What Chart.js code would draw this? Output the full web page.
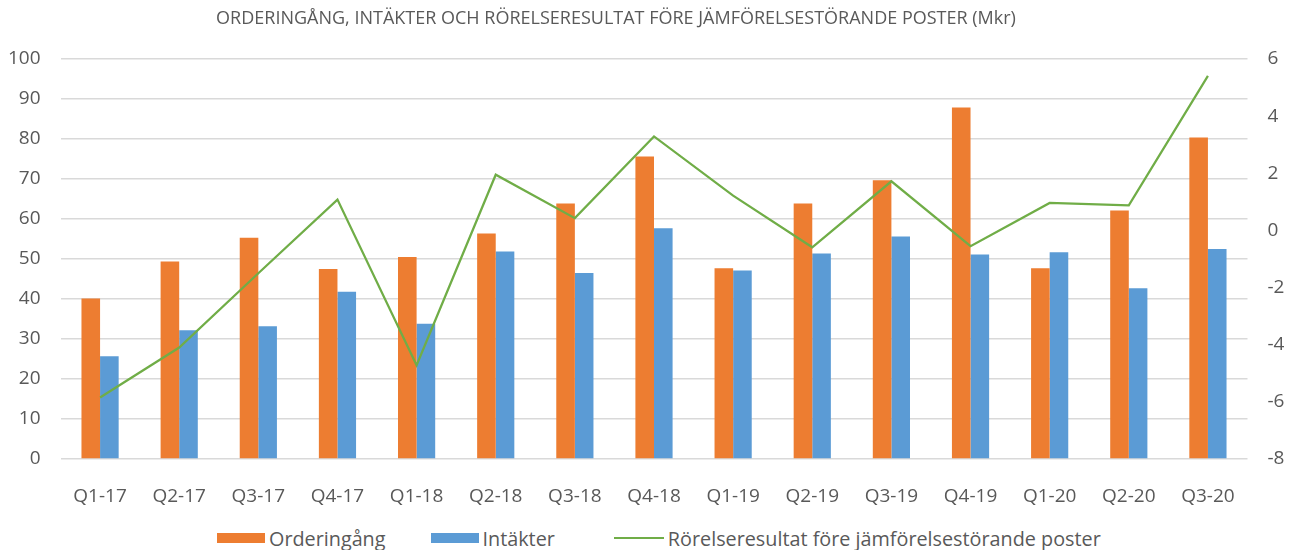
<!DOCTYPE html>
<html>
<head>
<meta charset="utf-8">
<script src="https://cdn.jsdelivr.net/npm/chart.js@4"></script>
<style>
  body { margin: 0; background: #fff; }
  #wrap { width: 1295px; height: 550px; position: relative; font-family: 'Open Sans', sans-serif; }
  #grafBox { position: absolute; left: 0; top: 0; width: 1295px; height: 505px; }
  #legend { position: absolute; left: 217px; top: 525px; height: 26px; display: flex; align-items: center;
            font-size: 19.8px; color: #595959; white-space: nowrap; }
  #legend .post { display: flex; align-items: center; }
  #legend .ruta { width: 48px; height: 10.5px; margin-right: 4px; }
  #legend .linje { width: 50px; height: 2.25px; margin-right: 4px; }
</style>
</head>
<body>
<div id="wrap">
  <div id="grafBox"><canvas id="grafOrder"></canvas></div>
  <div id="legend"></div>
</div>
<script>
const kvartal = ["Q1-17", "Q2-17", "Q3-17", "Q4-17", "Q1-18", "Q2-18", "Q3-18", "Q4-18",
                 "Q1-19", "Q2-19", "Q3-19", "Q4-19", "Q1-20", "Q2-20", "Q3-20"];
const orderingang = [40.1, 49.4, 55.3, 47.5, 50.5, 56.4, 63.9, 75.6, 47.7, 63.9, 69.7, 87.9, 47.7, 62.1, 80.4];
const intakter = [25.7, 32.2, 33.2, 41.8, 33.8, 51.9, 46.5, 57.7, 47.1, 51.4, 55.6, 51.1, 51.7, 42.7, 52.5];
const rorelseresultat = [-5.85, -4.1, -1.5, 1.08, -4.72, 1.95, 0.43, 3.29, 1.22, -0.59, 1.72, -0.55, 0.96, 0.88, 5.41];

const titel = "ORDERINGÅNG, INTÄKTER OCH RÖRELSERESULTAT FÖRE JÄMFÖRELSESTÖRANDE POSTER (Mkr)";
const fontFamilj = "'Open Sans', sans-serif";
const gra = "#595959";

// titeln sitter lite till vänster om mitten i originalet
const titelPlugin = {
    id: "titel",
    afterDraw(chart) {
        const ctx = chart.ctx;
        ctx.save();
        ctx.font = "18px " + fontFamilj;
        ctx.fillStyle = gra;
        ctx.textAlign = "center";
        ctx.textBaseline = "middle";
        ctx.fillText(titel, 616, 19);
        ctx.restore();
    }
};

const graf = new Chart(document.getElementById("grafOrder"), {
    data: {
        labels: kvartal,
        datasets: [
            {
                type: "bar",
                label: "Orderingång",
                data: orderingang,
                yAxisID: "y",
                backgroundColor: "#ED7D31",
                borderWidth: 0,
                categoryPercentage: 0.47,
                barPercentage: 1,
                order: 1
            },
            {
                type: "bar",
                label: "Intäkter",
                data: intakter,
                yAxisID: "y",
                backgroundColor: "#5B9BD5",
                borderWidth: 0,
                categoryPercentage: 0.47,
                barPercentage: 1,
                order: 1
            },
            {
                type: "line",
                label: "Rörelseresultat före jämförelsestörande poster",
                data: rorelseresultat,
                yAxisID: "y1",
                borderColor: "#70AD47",
                backgroundColor: "#70AD47",
                borderWidth: 2.25,
                pointRadius: 0,
                tension: 0,
                order: 0
            }
        ]
    },
    options: {
        responsive: true,
        maintainAspectRatio: false,
        animation: false,
        layout: { padding: { top: 59, bottom: 0, left: 0, right: 0 } },
        plugins: {
            legend: { display: false },
            tooltip: { enabled: false }
        },
        scales: {
            x: {
                grid: { display: false },
                border: { display: false },
                ticks: { color: gra, padding: 18, font: { family: fontFamilj, size: 19 }, maxRotation: 0, autoSkip: false },
                afterFit: s => { s.height = 46; }
            },
            y: {
                position: "left",
                min: 0,
                max: 100,
                ticks: { stepSize: 10, color: gra, padding: 20, font: { family: fontFamilj, size: 19 } },
                grid: { color: "#D9D9D9", lineWidth: 1.5, drawTicks: false },
                border: { display: false },
                afterFit: s => { s.width = 60.5; }
            },
            y1: {
                position: "right",
                min: -8,
                max: 6,
                ticks: { stepSize: 2, color: gra, padding: 20, font: { family: fontFamilj, size: 19 } },
                grid: { drawOnChartArea: false, drawTicks: false },
                border: { display: false },
                afterFit: s => { s.width = 47.5; }
            }
        }
    },
    plugins: [titelPlugin]
});

// egen legend under grafen, med samma avstånd som i originalet
const mellanrum = [45, 59, 0];
const legend = document.getElementById("legend");
graf.data.datasets.forEach((ds, i) => {
    const post = document.createElement("span");
    post.className = "post";
    post.style.marginRight = mellanrum[i] + "px";
    const markor = document.createElement("span");
    markor.className = ds.type === "line" ? "linje" : "ruta";
    markor.style.background = ds.type === "line" ? ds.borderColor : ds.backgroundColor;
    const text = document.createElement("span");
    text.textContent = ds.label;
    post.appendChild(markor);
    post.appendChild(text);
    legend.appendChild(post);
});
</script>
</body>
</html>
